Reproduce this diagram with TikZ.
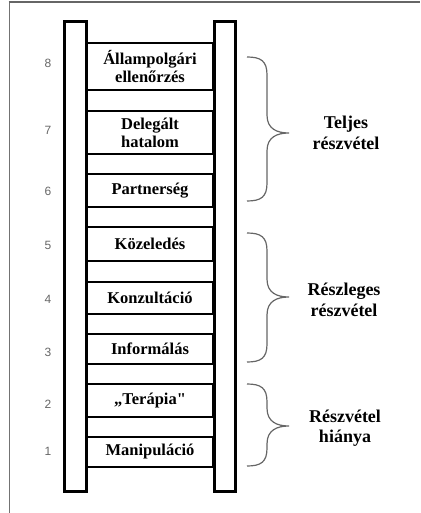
\documentclass[tikz,border=0pt]{standalone}
\usepackage{fontspec}
\setmainfont{Liberation Serif}
\newfontfamily\numfont{Liberation Sans}
\usetikzlibrary{positioning,calc}

% curly brace from (#1,#2) down to (#1,#3), tip at height #4
\newcommand{\ladderbrace}[4]{%
  \draw[bracestyle] (#1,#2) .. controls ($(#1,#2)+(14,0)$) and ($(#1,#2)+(20,4)$) .. ($(#1,#2)+(20,18)$)
    -- ($(#1,#4)+(20,-18)$) .. controls ($(#1,#4)+(20,-4)$) and ($(#1,#4)+(30,0)$) .. ($(#1,#4)+(42,0)$)
    .. controls ($(#1,#4)+(30,0)$) and ($(#1,#4)+(20,4)$) .. ($(#1,#4)+(20,18)$)
    -- ($(#1,#3)+(20,-18)$) .. controls ($(#1,#3)+(20,-4)$) and ($(#1,#3)+(14,0)$) .. (#1,#3);}
\newcommand{\straightquote}{{\addfontfeatures{Ligatures=TeXOff}"}}

\begin{document}
\begin{tikzpicture}[x=1pt, y=-1pt,
    rail/.style={draw=black, line width=3pt, fill=white},
    rung/.style={draw=black, line width=2.6pt, minimum width=126pt, inner sep=0pt,
                 align=center, font=\fontsize{16.5}{18}\selectfont\bfseries},
    num/.style={text=black!60, font=\numfont\fontsize{12}{13}\selectfont},
    group/.style={align=center, font=\fontsize{18}{20.5}\selectfont\bfseries},
    bracestyle/.style={draw=black!60, line width=1.2pt}
]
\useasboundingbox (0,0) rectangle (420,513);

% keret
\draw[black!55, line width=1pt] (9,513) -- (9,2.5);
\draw[black!60, line width=2pt] (8.5,2.5) -- (420,2.5);

% a létra két oldala
\draw[rail] (64.5,21.5) rectangle (86.5,491.5);
\draw[rail] (214.5,21.5) rectangle (235.5,491.5);

% fokok
\node[rung, minimum height=47pt] (r8) at (150,66.5) {Állampolgári\\ellenőrzés};
\node[rung, minimum height=43pt] (r7) at (150,132.5) {Delegált\\hatalom};
\node[rung, minimum height=33pt] (r6) at (150,190.5) {Partnerség};
\node[rung, minimum height=34pt] (r5) at (150,244) {Közeledés};
\node[rung, minimum height=32pt] (r4) at (150,298) {Konzultáció};
\node[rung, minimum height=30pt] (r3) at (150,349) {Informálás};
\node[rung, minimum height=33pt] (r2) at (150,400.5) {„Terápia\straightquote};
\node[rung, minimum height=30pt] (r1) at (150,452) {Manipuláció};

% sorszámok
\node[num] (n8) at (48,63) {8};
\node[num] (n7) at (48,130) {7};
\node[num] (n6) at (48,191) {6};
\node[num] (n5) at (48,245) {5};
\node[num] (n4) at (48,299) {4};
\node[num] (n3) at (48,352) {3};
\node[num] (n2) at (48,404) {2};
\node[num] (n1) at (48,451) {1};

% kapcsos zárójelek
\ladderbrace{247}{57}{201}{133}
\ladderbrace{247}{233}{362}{297}
\ladderbrace{247}{384}{466}{426}

% csoportok
\node[group] (g3) at (346,133) {Teljes\\részvétel};
\node[group] (g2) at (344,300) {Részleges\\részvétel};
\node[group] (g1) at (345,428) {Részvétel\\hiánya};

\end{tikzpicture}
\end{document}
